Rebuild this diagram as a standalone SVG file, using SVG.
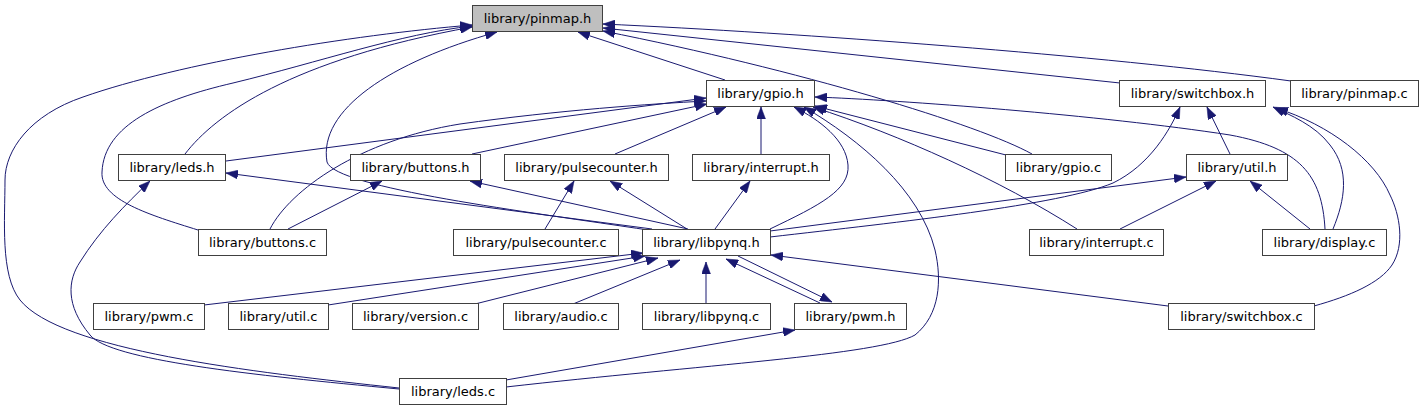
<svg xmlns="http://www.w3.org/2000/svg" width="1424" height="411" viewBox="0 0 1424 411">
<style>
.node rect{fill:#ffffff;stroke:#404040;stroke-width:1}
.node.root rect{fill:#bfbfbf}
.node text{font-family:"DejaVu Sans","Liberation Sans",sans-serif;font-size:13px;fill:#000000;text-anchor:middle}
.edges path{fill:none;stroke:#191970;stroke-width:1;marker-end:url(#arr)}
</style>
<defs>
<marker id="arr" viewBox="0 0 12 9" markerWidth="12" markerHeight="9" refX="12" refY="4.5" orient="auto" markerUnits="userSpaceOnUse">
<path d="M0,0 L12,4.5 L0,9 Z" fill="#191970" stroke="#191970" stroke-width="0.5"/>
</marker>
</defs>
<rect width="1424" height="411" fill="#ffffff"/>
<g class="edges">
<!-- to pinmap.h -->
<path d="M725,80 L578,32"/>
<path d="M1120,83 L603,28"/>
<path d="M1291,81 C1100,55 800,33 603,24"/>
<path d="M1032,154 C980,125 800,70 603,31"/>
<path d="M185,154 C215,115 290,60 472,27"/>
<path d="M198,230 C150,215 100,200 102,172 C104,125 160,100 233,83 C320,62 400,34 472,26"/>
<path d="M399,388 C250,372 60,350 20,300 C0,275 5,220 5,180 C5,150 30,115 83,97 C180,63 350,35 472,25"/>
<path d="M648,230 C530,212 335,188 327,162 C318,110 390,62 497,32"/>
<!-- to gpio.h -->
<path d="M226,161 L706,98"/>
<path d="M270,229 C290,190 360,140 460,124 C560,110 650,104 706,101"/>
<path d="M472,154 L707,104"/>
<path d="M615,154 L726,107"/>
<path d="M761,154 L761,107"/>
<path d="M1006,155 L815,106"/>
<path d="M1077,229 C1000,180 900,135 813,107"/>
<path d="M1325,229 C1322,175 1300,148 1230,135 C1100,115 900,100 815,97"/>
<path d="M770,229 C820,205 850,190 848,165 C846,140 820,120 794,107"/>
<path d="M506,387 C700,365 880,355 915,335 C940,315 942,280 935,250 C920,190 860,140 804,107"/>
<!-- to switchbox.h -->
<path d="M770,237 C900,222 1060,205 1113,183 C1150,165 1170,130 1180,107"/>
<path d="M1230,154 L1207,107"/>
<path d="M1333,229 C1345,200 1350,170 1330,145 C1315,125 1290,115 1273,107"/>
<path d="M1314,306 C1350,296 1380,283 1392,265 C1405,245 1400,215 1390,195 C1375,160 1330,125 1276,108"/>
<!-- to leds.h -->
<path d="M652,229 L226,173"/>
<path d="M399,389 C250,375 110,360 90,335 C65,305 68,280 80,262 C100,230 125,205 150,181"/>
<!-- to buttons.h -->
<path d="M288,229 L382,181"/>
<path d="M688,229 L470,181"/>
<!-- to pulsecounter.h -->
<path d="M545,229 L574,181"/>
<path d="M687,229 L610,181"/>
<!-- to interrupt.h -->
<path d="M715,229 L750,181"/>
<!-- to util.h -->
<path d="M770,231 L1186,177"/>
<path d="M1120,229 L1216,181"/>
<path d="M1310,229 L1250,181"/>
<!-- to libpynq.h -->
<path d="M204,305 L643,253"/>
<path d="M328,305 L645,256"/>
<path d="M475,304 L658,258"/>
<path d="M573,304 L680,260"/>
<path d="M706,303 L706,262"/>
<path d="M820,303 L726,259"/>
<path d="M1168,306 L771,255"/>
<!-- to pwm.h -->
<path d="M738,256 L832,302"/>
<path d="M506,380 L795,330"/>
</g>
<g id="node-pinmap_h" class="node root"><rect x="472.5" y="5.5" width="130" height="26"/><text x="537.5" y="22.5">library/pinmap.h</text></g>
<g id="node-gpio_h" class="node"><rect x="706.5" y="80.5" width="108" height="26"/><text x="760.5" y="97.5">library/gpio.h</text></g>
<g id="node-switchbox_h" class="node"><rect x="1119.5" y="80.5" width="146" height="26"/><text x="1192.5" y="97.5">library/switchbox.h</text></g>
<g id="node-pinmap_c" class="node"><rect x="1290.5" y="80.5" width="128" height="26"/><text x="1354.5" y="97.5">library/pinmap.c</text></g>
<g id="node-leds_h" class="node"><rect x="118.5" y="154.5" width="107" height="26"/><text x="172" y="171.5">library/leds.h</text></g>
<g id="node-buttons_h" class="node"><rect x="350.5" y="154.5" width="130" height="26"/><text x="415.5" y="171.5">library/buttons.h</text></g>
<g id="node-pulsecounter_h" class="node"><rect x="504.5" y="154.5" width="164" height="26"/><text x="586.5" y="171.5">library/pulsecounter.h</text></g>
<g id="node-interrupt_h" class="node"><rect x="692.5" y="154.5" width="137" height="26"/><text x="761" y="171.5">library/interrupt.h</text></g>
<g id="node-gpio_c" class="node"><rect x="1005.5" y="154.5" width="106" height="26"/><text x="1058.5" y="171.5">library/gpio.c</text></g>
<g id="node-util_h" class="node"><rect x="1186.5" y="154.5" width="101" height="26"/><text x="1237" y="171.5">library/util.h</text></g>
<g id="node-buttons_c" class="node"><rect x="198.5" y="229.5" width="128" height="26"/><text x="262.5" y="246.5">library/buttons.c</text></g>
<g id="node-pulsecounter_c" class="node"><rect x="453.5" y="229.5" width="165" height="26"/><text x="536" y="246.5">library/pulsecounter.c</text></g>
<g id="node-libpynq_h" class="node"><rect x="642.5" y="229.5" width="128" height="26"/><text x="706.5" y="246.5">library/libpynq.h</text></g>
<g id="node-interrupt_c" class="node"><rect x="1029.5" y="229.5" width="134" height="26"/><text x="1096.5" y="246.5">library/interrupt.c</text></g>
<g id="node-display_c" class="node"><rect x="1262.5" y="229.5" width="124" height="26"/><text x="1324.5" y="246.5">library/display.c</text></g>
<g id="node-pwm_c" class="node"><rect x="93.5" y="303.5" width="111" height="26"/><text x="149" y="320.5">library/pwm.c</text></g>
<g id="node-util_c" class="node"><rect x="228.5" y="303.5" width="100" height="26"/><text x="278.5" y="320.5">library/util.c</text></g>
<g id="node-version_c" class="node"><rect x="352.5" y="303.5" width="126" height="26"/><text x="415.5" y="320.5">library/version.c</text></g>
<g id="node-audio_c" class="node"><rect x="503.5" y="303.5" width="115" height="26"/><text x="561" y="320.5">library/audio.c</text></g>
<g id="node-libpynq_c" class="node"><rect x="642.5" y="303.5" width="128" height="26"/><text x="706.5" y="320.5">library/libpynq.c</text></g>
<g id="node-pwm_h" class="node"><rect x="794.5" y="303.5" width="112" height="26"/><text x="850.5" y="320.5">library/pwm.h</text></g>
<g id="node-switchbox_c" class="node"><rect x="1168.5" y="303.5" width="146" height="26"/><text x="1241.5" y="320.5">library/switchbox.c</text></g>
<g id="node-leds_c" class="node"><rect x="399.5" y="378.5" width="107" height="26"/><text x="453" y="395.5">library/leds.c</text></g>
</svg>
